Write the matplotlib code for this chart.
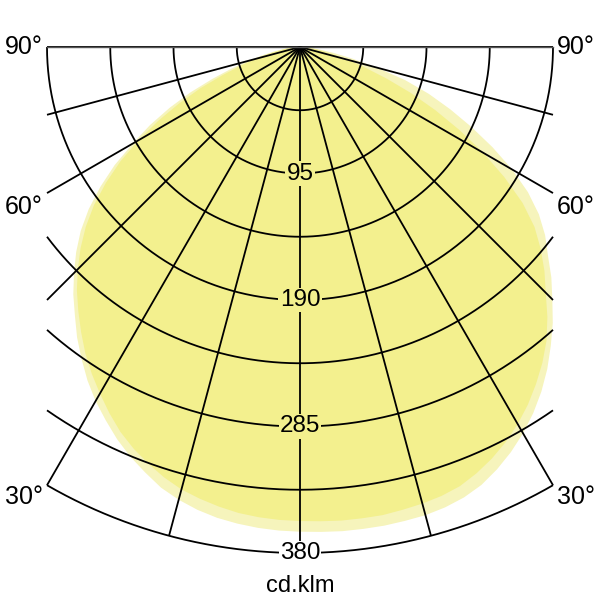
import numpy as np
import matplotlib
matplotlib.use("Agg")
import matplotlib.pyplot as plt

plt.rcParams['font.family'] = ['Liberation Sans', 'DejaVu Sans']

# luminous intensity, cd/klm, at angles from nadir
angles = [0, 2.5, 5, 7.5, 10, 12.5, 15, 17.5, 20, 22.5, 25, 27.5, 30, 32.5, 35, 37.5,
          40, 42.5, 45, 47.5, 50, 52.5, 55, 57.5, 60, 62.5, 65, 67.5, 70, 72.5, 75,
          77.5, 80, 82.5, 85, 87.5, 90]
# outer (light) curve, left and right half
outer_left = [364, 363.5, 362.5, 361, 359, 356, 352, 347, 340, 333, 325, 316, 307, 297,
              286, 275, 263, 252, 240, 228, 215, 200, 183, 165, 145, 127, 108, 89, 70, 54,
              40, 29, 20, 13, 8, 3, 0]
outer_right = [364, 364.5, 365, 365, 365, 364.5, 364, 362.5, 360, 356, 350, 343, 335, 326,
               316, 305, 293, 281, 268, 256, 243, 232, 219, 203, 184, 163, 142, 122, 103,
               83, 60, 40, 26, 15, 8, 3, 0]
# inner (dark) curve, left and right half
inner_left = [356, 355.5, 354.5, 353, 350.5, 347.5, 344, 339, 333, 326.5, 319, 310, 300.5,
              291, 281, 270, 259, 248, 236, 223.5, 210, 195, 178, 160, 140, 120, 100, 81,
              62, 47, 35, 25, 17, 11, 6, 2.5, 0]
inner_right = [356, 356.5, 357, 357, 357, 356, 355, 353.5, 351, 346.5, 341, 334.5, 327,
               318.5, 309, 299, 288, 275, 261, 249, 236, 222, 204, 182, 159, 135, 112, 90,
               69, 51, 37, 26, 17, 11, 6, 2.5, 0]

ring_step = 47.5
ring_labels = [95, 190, 285, 380]
ray_angles = [-90, -75, -60, -45, -30, -15, 0, 15, 30, 45, 60, 75, 90]
side_labels = [90, 60, 30]
unit = 'cd.klm'

rmax = ring_labels[-1]
half_w = rmax * np.sin(np.radians(30))

light = '#f6f4bc'
dark = '#f3f08e'

fig = plt.figure(figsize=(6, 6), dpi=100)
ax = fig.add_axes([47/600, 47/600, 506/600, 506/600])
ax.set_xlim(-half_w, half_w)
ax.set_ylim(-rmax, 0)
ax.set_aspect('equal')
ax.axis('off')


def lobe(left, right):
    t = np.radians(np.array(angles, float))
    t = np.concatenate([-t[::-1], t[1:]])
    r = np.concatenate([np.array(left[::-1], float), np.array(right[1:], float)])
    return r * np.sin(t), -r * np.cos(t)


x, y = lobe(outer_left, outer_right)
ax.fill(x, y, color=light, lw=0, zorder=1)
x, y = lobe(inner_left, inner_right)
ax.fill(x, y, color=dark, lw=0, zorder=2)

# rings
for k in range(1, 9):
    r = k * ring_step
    tmax = np.pi / 2 if r <= half_w else np.arcsin(half_w / r)
    t = np.linspace(-tmax, tmax, 300)
    ax.plot(r * np.sin(t), -r * np.cos(t), color='black', lw=1.3,
            zorder=3, clip_on=False, solid_capstyle='butt')

# rays
for a in ray_angles:
    t = np.radians(a)
    L = rmax if a == 0 else min(rmax, half_w / abs(np.sin(t)))
    ax.plot([0, L * np.sin(t)], [0, -L * np.cos(t)], color='black', lw=1.3,
            zorder=3, clip_on=False, solid_capstyle='butt')

ax.plot([-half_w, half_w], [0, 0], color='#555555', lw=1.0, zorder=4, clip_on=False)

# ring labels
for v in ring_labels:
    fc = 'white' if v == rmax else dark
    ax.text(0, -v, str(v), ha='center', va='center', fontsize=17.5, zorder=5,
            bbox=dict(boxstyle='square,pad=0.05', fc=fc, ec='none'))

# angle labels
offs = {90: 0, 60: -10, 30: -8.5}
for a in side_labels:
    yend = 0 if a == 90 else -half_w / np.tan(np.radians(a))
    for sgn in (-1, 1):
        ax.annotate(f'{a}°', xy=(sgn * half_w, yend), xytext=(sgn * 16.5, offs[a]),
                    textcoords='offset points', ha='center', va='center',
                    fontsize=18, annotation_clip=False)

fig.text(0.5, 1 - 586/600, unit, ha='center', va='center', fontsize=17)

fig.savefig('out.png', dpi=100)
